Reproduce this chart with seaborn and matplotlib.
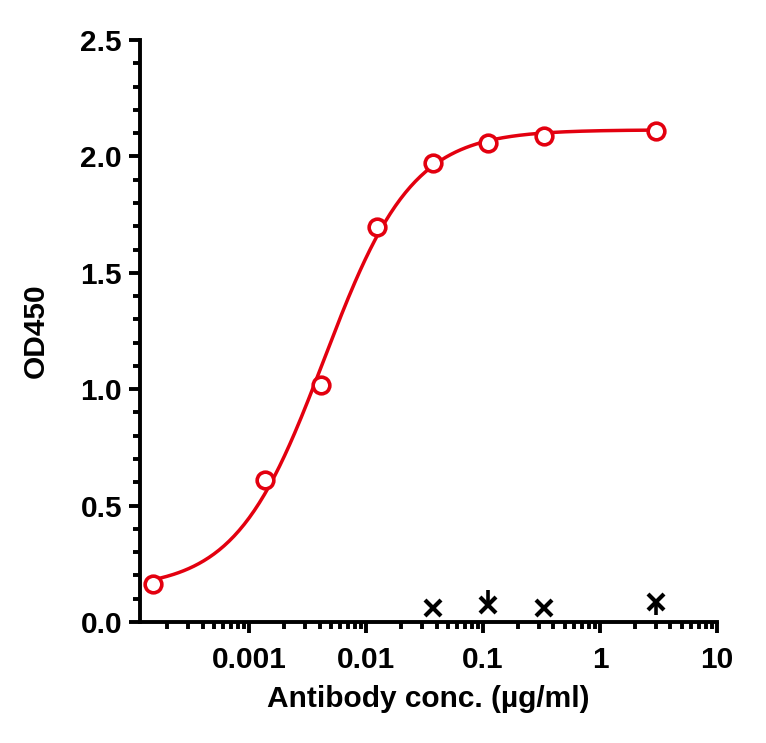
import numpy as np
import pandas as pd
import matplotlib
matplotlib.use("Agg")
import matplotlib.pyplot as plt
import seaborn as sns
from matplotlib.ticker import LogLocator, FixedLocator, MultipleLocator

# Data
conc = [0.000152, 0.00137, 0.0041, 0.0123, 0.037, 0.111, 0.333, 3.0]
od450 = [0.163, 0.61, 1.02, 1.695, 1.974, 2.06, 2.09, 2.11]

ctrl_conc = [0.037, 0.111, 0.333, 3.0]
ctrl_od = [0.06, 0.073, 0.06, 0.086]
ctrl_err_low = [0.0, 0.0, 0.0, 0.056]
ctrl_err_high = [0.0, 0.064, 0.0, 0.0]

df = pd.DataFrame({"conc": conc, "od": od450})

# 4PL fit: grid search on EC50 / hill, linear solve for bottom / top
x = np.array(conc)
y = np.array(od450)
best = None
for logec in np.linspace(-3.5, -1.5, 201):
    for hill in np.linspace(0.5, 2.5, 201):
        f = 1.0 / (1.0 + (10**logec / x) ** hill)
        A = np.column_stack([1 - f, f])
        coef, *_ = np.linalg.lstsq(A, y, rcond=None)
        sse = np.sum((A @ coef - y) ** 2)
        if best is None or sse < best[0]:
            best = (sse, logec, hill, coef)
_, logec, hill, (bottom, top) = best
xs = np.logspace(np.log10(x.min()), np.log10(x.max()), 300)
fit = pd.DataFrame({"conc": xs,
                    "od": bottom + (top - bottom) / (1 + (10**logec / xs) ** hill)})

sns.set_style("ticks", {"text.color": "black", "axes.labelcolor": "black",
                        "xtick.color": "black", "ytick.color": "black",
                        "axes.edgecolor": "black"})
plt.rcParams["font.family"] = ["Liberation Sans", "DejaVu Sans"]
plt.rcParams["font.weight"] = "bold"

red = "#E3000F"
fig = plt.figure(figsize=(7.66, 7.43), dpi=100)
ax = fig.add_axes([0.183, 0.163, 0.753, 0.783])

sns.lineplot(data=fit, x="conc", y="od", color=red, linewidth=2.5, ax=ax)
ax.plot(df["conc"], df["od"], linestyle="none", marker="o", markersize=12,
        markerfacecolor="white", markeredgecolor=red, markeredgewidth=2.6, zorder=5)

ax.errorbar(ctrl_conc, ctrl_od, yerr=[ctrl_err_low, ctrl_err_high], fmt="x",
            color="black", markersize=11, markeredgewidth=3.0, elinewidth=2.6,
            capsize=0, zorder=6, clip_on=False)

ax.set_xscale("log")
ax.set_xlim(1.17e-4, 10)
ax.set_ylim(0, 2.5)
ax.xaxis.set_major_locator(FixedLocator([0.001, 0.01, 0.1, 1, 10]))
ax.xaxis.set_minor_locator(LogLocator(base=10, subs=np.arange(2, 10), numticks=20))
ax.set_xticklabels(["0.001", "0.01", "0.1", "1", "10"])
ax.yaxis.set_major_locator(MultipleLocator(0.5))
ax.yaxis.set_minor_locator(MultipleLocator(0.1))
ax.yaxis.set_major_formatter(plt.FormatStrFormatter("%.1f"))

for s in ["top", "right"]:
    ax.spines[s].set_visible(False)
for s in ["left", "bottom"]:
    ax.spines[s].set_linewidth(2.8)
ax.tick_params(which="major", length=8, width=2.8, labelsize=21.5, colors="black")
ax.tick_params(axis="x", which="major", pad=9)
ax.tick_params(axis="y", which="major", pad=5)
ax.tick_params(which="minor", length=5, width=2.8, colors="black")

ax.set_xlabel("Antibody conc. (µg/ml)", fontsize=21.5, fontweight="bold", labelpad=8, color="black")
ax.set_ylabel("OD450", fontsize=21.5, fontweight="bold", labelpad=22, color="black")
for lab in ax.get_xticklabels() + ax.get_yticklabels():
    lab.set_fontweight("bold")

fig.savefig("out.png", dpi=100)
